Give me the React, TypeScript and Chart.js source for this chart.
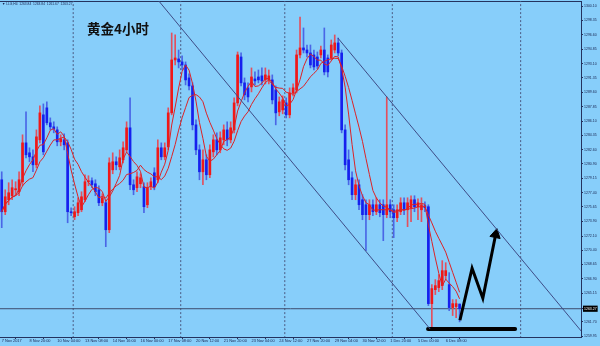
import React, { useEffect, useRef } from "react";
import { Chart, registerables } from "chart.js";
Chart.register(...registerables);

// ---- data (XAUUSD H4, 7 Nov 2017 12:00 .. 7 Dec 2017 00:00) ----
const opens = [1278.96,1275.07,1276.53,1277.02,1277.74,1277.50,1278.72,1283.45,1282.24,1281.75,1280.78,1283.82,1286.86,1287.71,1285.89,1285.40,1285.03,1283.58,1283.82,1283.45,1275.07,1274.46,1274.95,1275.31,1276.53,1278.72,1278.84,1278.47,1277.74,1276.16,1276.16,1272.88,1280.17,1281.15,1280.54,1281.39,1282.60,1285.28,1278.35,1277.99,1278.47,1278.11,1275.92,1278.11,1279.81,1278.96,1282.85,1281.75,1282.97,1287.10,1293.54,1293.66,1293.30,1292.93,1291.35,1290.38,1285.64,1282.60,1279.93,1281.39,1279.57,1282.36,1283.82,1282.60,1283.82,1285.03,1283.82,1285.03,1288.31,1293.90,1290.75,1290.14,1290.26,1291.23,1291.47,1291.60,1291.11,1291.11,1291.11,1289.89,1287.22,1287.46,1288.31,1286.86,1289.53,1289.89,1294.15,1295.00,1294.75,1294.39,1294.15,1293.90,1294.15,1294.75,1293.78,1293.78,1294.75,1295.61,1294.39,1285.03,1281.39,1279.20,1277.14,1278.35,1276.53,1275.92,1274.71,1275.92,1275.07,1275.92,1275.92,1274.71,1275.92,1275.31,1274.34,1275.07,1276.16,1275.31,1275.56,1276.53,1275.68,1275.31,1275.80,1275.68,1263.89,1265.59,1265.84,1266.08,1267.30,1266.20,1263.41,1263.53,1263.84];
const highs = [1279.93,1277.74,1278.60,1278.96,1278.72,1279.93,1284.43,1287.22,1282.85,1282.60,1285.03,1287.95,1288.19,1288.44,1286.49,1286.01,1285.40,1284.43,1284.55,1283.82,1275.56,1275.68,1276.77,1277.50,1279.57,1279.45,1279.20,1278.96,1278.23,1277.26,1276.53,1281.63,1282.24,1281.75,1282.60,1283.58,1286.01,1288.92,1278.96,1279.93,1279.69,1278.60,1278.60,1279.20,1280.42,1283.82,1283.45,1283.45,1287.71,1296.82,1296.58,1294.75,1294.03,1293.30,1291.84,1290.75,1286.25,1283.21,1282.60,1282.00,1283.21,1284.43,1284.67,1284.79,1285.64,1286.01,1286.01,1288.92,1294.51,1294.39,1291.35,1290.75,1292.57,1292.08,1292.32,1292.57,1292.57,1292.32,1291.72,1290.38,1289.04,1289.17,1288.92,1290.14,1290.62,1294.75,1298.76,1297.43,1295.36,1295.36,1294.75,1294.51,1295.24,1297.43,1294.15,1295.97,1296.58,1296.21,1294.75,1285.64,1282.60,1279.93,1278.96,1278.96,1277.14,1276.53,1276.53,1276.53,1276.77,1276.53,1276.53,1289.04,1276.53,1275.92,1275.92,1276.77,1276.77,1276.77,1277.02,1277.02,1276.65,1276.77,1276.29,1275.92,1266.20,1266.81,1267.42,1269.12,1268.87,1267.66,1264.38,1264.38,1263.84];
const lows = [1273.13,1274.71,1275.92,1276.53,1277.02,1277.02,1278.23,1281.63,1281.15,1279.93,1280.42,1283.45,1282.00,1285.64,1285.03,1284.67,1283.09,1283.09,1282.60,1273.73,1274.59,1274.10,1274.59,1275.07,1276.29,1278.23,1277.99,1277.02,1275.80,1275.80,1270.82,1272.52,1279.69,1280.17,1280.17,1281.02,1282.36,1277.74,1277.14,1277.50,1277.99,1274.95,1275.56,1277.74,1277.74,1278.60,1281.39,1281.39,1282.60,1286.86,1292.93,1292.57,1292.32,1290.50,1289.89,1285.03,1282.00,1278.96,1278.35,1278.96,1279.20,1281.75,1282.00,1282.24,1283.21,1283.09,1283.45,1284.67,1287.95,1290.38,1288.68,1288.44,1289.65,1290.50,1290.75,1290.50,1290.62,1290.62,1288.19,1285.64,1286.74,1286.98,1286.49,1286.49,1289.17,1289.53,1293.78,1294.39,1293.90,1292.57,1292.32,1292.45,1293.78,1291.72,1291.47,1293.54,1294.39,1294.03,1284.67,1280.17,1278.35,1276.53,1276.53,1275.31,1274.10,1270.33,1274.10,1274.59,1274.71,1274.46,1271.55,1274.34,1274.34,1271.91,1273.86,1274.71,1274.71,1273.25,1273.86,1275.07,1274.10,1273.86,1275.07,1263.65,1260.86,1264.99,1265.35,1265.59,1266.81,1263.04,1262.44,1262.19,1261.67];
const closes = [1275.07,1276.89,1277.38,1277.99,1277.87,1278.96,1283.45,1282.00,1281.75,1280.78,1284.18,1287.10,1282.36,1285.89,1285.40,1285.16,1283.58,1283.94,1283.21,1275.07,1274.95,1275.07,1276.16,1276.89,1278.72,1278.84,1278.35,1277.50,1276.16,1276.77,1272.88,1281.02,1281.15,1280.78,1281.63,1282.85,1285.28,1278.35,1277.74,1279.32,1279.20,1275.68,1277.99,1278.72,1278.11,1282.85,1281.75,1282.85,1287.10,1293.54,1293.78,1293.30,1292.93,1291.11,1290.38,1285.64,1282.60,1279.93,1281.39,1279.57,1282.60,1283.82,1282.60,1284.06,1285.03,1283.82,1285.28,1288.31,1294.15,1290.75,1289.29,1289.04,1291.47,1290.99,1291.11,1290.99,1291.72,1291.60,1288.68,1287.10,1288.44,1288.68,1286.86,1289.53,1290.14,1294.15,1295.00,1294.75,1294.39,1292.93,1292.69,1292.81,1294.75,1292.08,1292.08,1295.36,1295.61,1294.39,1285.03,1280.78,1278.96,1277.14,1278.35,1275.92,1274.71,1274.71,1275.92,1275.07,1275.92,1274.95,1274.71,1275.92,1275.07,1274.34,1275.31,1276.16,1275.31,1276.16,1276.53,1275.68,1276.16,1275.92,1275.56,1263.89,1265.72,1266.08,1266.69,1267.90,1267.90,1263.41,1263.89,1263.89,1263.27];

const xTickBars = [0, 8, 16, 24, 32, 40, 48, 56, 64, 72, 80, 88, 96, 104, 112, 120, 128];
const xTickLabels = ["7 Nov 2017", "8 Nov 20:00", "10 Nov 04:00", "13 Nov 08:00", "14 Nov 16:00", "16 Nov 00:00", "17 Nov 08:00", "20 Nov 12:00", "21 Nov 20:00", "23 Nov 04:00", "24 Nov 12:00", "27 Nov 20:00", "29 Nov 04:00", "30 Nov 12:00", "1 Dec 20:00", "5 Dec 00:00", "6 Dec 08:00"];
const yTickValues = [1300.10, 1298.35, 1296.60, 1294.85, 1293.10, 1291.35, 1289.60, 1287.85, 1286.10, 1284.35, 1282.60, 1280.90, 1279.15, 1277.40, 1275.65, 1273.90, 1272.10, 1270.40, 1268.65, 1266.90, 1265.15, 1263.27, 1261.70, 1259.95];
const currentPrice = 1263.27;
const weekStartBars = [21, 52, 82, 113, 150];
const maPeriods = [5, 10];
const lowerChannel = [{ x: 45.05, y: 1300.83 }, { x: 123.5, y: 1260.8 }];
const upperChannel = [{ x: 96.9, y: 1296.21 }, { x: 167.3, y: 1260.43 }];
const arrowPath = [{ x: 132.1, y: 1261.87 }, { x: 135.6, y: 1268.2 }, { x: 138.7, y: 1264.55 }, { x: 142.4, y: 1272.3 }];
const supportLine = [{ x: 122.9, y: 1260.8 }, { x: 148.0, y: 1260.8 }];

const X_MIN = -0.5;
const X_MAX = 167;
const Y_MIN = 1259.83;
const Y_MAX = 1300.71;

function sma(values: number[], period: number): number[] {
  return values.map((_, i) => {
    const s = Math.max(0, i - period + 1);
    const w = values.slice(s, i + 1);
    return w.reduce((a, b) => a + b, 0) / w.length;
  });
}

const AXIS = "#24325e";
const TXT = "#1a2550";

const zeroPad = (s: any) => {
  s.paddingLeft = 0;
  s.paddingRight = 0;
  s.paddingTop = 0;
  s.paddingBottom = 0;
};

export default function App() {
  const ref = useRef<HTMLCanvasElement | null>(null);

  useEffect(() => {
    document.body.style.margin = "0";
    if (!ref.current) return;
    const isBull = (i: number) => closes[i] >= opens[i];
    const datasets: any[] = [];

    datasets.push({
      type: "bar",
      data: closes.map((c, i) => ({ x: i, y: [opens[i], c] })),
      backgroundColor: (ctx: any) => (isBull(ctx.dataIndex) ? "#f01818" : "#1620ee"),
      barThickness: 2,
      grouped: false,
      minBarLength: 1,
      borderWidth: 0,
      order: 2,
    });
    datasets.push({
      type: "bar",
      data: closes.map((_, i) => ({ x: i, y: [lows[i], highs[i]] })),
      backgroundColor: (ctx: any) => (isBull(ctx.dataIndex) ? "#e2505e" : "#4a66e6"),
      barThickness: 1,
      grouped: false,
      borderWidth: 0,
      order: 3,
    });
    maPeriods.forEach((p) => {
      const ma = sma(closes, p);
      datasets.push({
        type: "line",
        data: ma.map((v, i) => ({ x: i, y: v })),
        borderColor: "#dc2226",
        borderWidth: 1,
        pointRadius: 0,
        tension: 0,
        order: 1,
      });
    });
    weekStartBars.forEach((w) => {
      datasets.push({
        type: "line",
        data: [{ x: w - 0.4, y: Y_MIN - 5 }, { x: w - 0.4, y: Y_MAX + 5 }],
        borderColor: "#4b5a82",
        borderWidth: 1,
        borderDash: [2, 2],
        pointRadius: 0,
        order: 6,
      });
    });
    datasets.push({
      type: "line",
      data: [{ x: X_MIN, y: currentPrice }, { x: X_MAX, y: currentPrice }],
      borderColor: "#3d4c6e",
      borderWidth: 1,
      pointRadius: 0,
      order: 5,
    });
    [lowerChannel, upperChannel].forEach((seg) => {
      datasets.push({
        type: "line",
        data: seg,
        borderColor: "#3e4c86",
        borderWidth: 1,
        pointRadius: 0,
        order: 0,
      });
    });
    datasets.push({
      type: "line",
      data: supportLine,
      borderColor: "#000000",
      borderWidth: 4,
      borderCapStyle: "round",
      pointRadius: 0,
      order: 0,
    });
    datasets.push({
      type: "line",
      data: arrowPath,
      borderColor: "#000000",
      borderWidth: 3,
      borderJoinStyle: "miter",
      pointRadius: arrowPath.map((_, i) => (i === arrowPath.length - 1 ? 6 : 0)),
      pointStyle: "triangle",
      pointRotation: 12,
      pointBackgroundColor: "#000000",
      pointBorderColor: "#000000",
      pointBorderWidth: 1,
      order: 0,
    });

    const chart = new Chart(ref.current, {
      type: "bar",
      data: { datasets },
      options: {
        responsive: false,
        animation: false,
        devicePixelRatio: 1,
        layout: { padding: 0, autoPadding: false },
        plugins: { legend: { display: false }, tooltip: { enabled: false } },
        scales: {
          x: {
            type: "linear",
            position: "bottom",
            min: X_MIN,
            max: X_MAX,
            offset: false,
            afterBuildTicks: (s: any) => {
              s.ticks = xTickBars.map((v) => ({ value: v }));
            },
            afterFit: (s: any) => {
              s.height = 9;
              zeroPad(s);
            },
            ticks: {
              autoSkip: false,
              maxRotation: 0,
              minRotation: 0,
              align: "start",
              padding: 0,
              color: TXT,
              font: { family: "Liberation Sans", size: 3.9 },
              callback: (_v: any, i: number) => xTickLabels[i],
            },
            grid: { drawOnChartArea: false, drawTicks: true, tickLength: 2, color: AXIS },
            border: { display: true, color: AXIS },
          },
          xTop: {
            type: "linear",
            position: "top",
            min: 0,
            max: 1,
            ticks: { display: false },
            grid: { display: false, drawTicks: false },
            border: { display: true, color: AXIS },
            afterFit: (s: any) => {
              s.height = 1;
              zeroPad(s);
            },
          },
          y: {
            type: "linear",
            position: "right",
            min: Y_MIN,
            max: Y_MAX,
            afterBuildTicks: (s: any) => {
              s.ticks = yTickValues.map((v) => ({ value: v }));
            },
            afterFit: (s: any) => {
              s.width = 19;
              zeroPad(s);
            },
            ticks: {
              autoSkip: false,
              padding: 1,
              font: { family: "Liberation Sans", size: 3.5 },
              color: (ctx: any) => (ctx.tick && ctx.tick.value === currentPrice ? "#ffffff" : TXT),
              showLabelBackdrop: (ctx: any) => !!(ctx.tick && ctx.tick.value === currentPrice),
              backdropColor: "#000000",
              backdropPadding: { x: 1, y: 1 },
              callback: (v: any) => Number(v).toFixed(2),
            },
            grid: { drawOnChartArea: false, drawTicks: true, tickLength: 2, color: AXIS },
            border: { display: true, color: AXIS },
          },
        },
      } as any,
    });
    return () => chart.destroy();
  }, []);

  return (
    <div
      style={{
        position: "fixed",
        left: 0,
        top: 0,
        width: 600,
        height: 346,
        background: "#87cefa",
        overflow: "hidden",
      }}
    >
      <canvas ref={ref} width={600} height={346} style={{ position: "absolute", left: 0, top: 0 }} />
      <div
        style={{
          position: "absolute",
          left: 2,
          top: 2,
          fontFamily: "Liberation Sans",
          fontSize: 3.3,
          lineHeight: "4px",
          color: TXT,
          whiteSpace: "pre",
        }}
      >
        {"▼ LLG,H4  1263.84  1263.84  1261.67  1263.27"}
      </div>
      <div
        style={{
          position: "absolute",
          left: 87,
          top: 21,
          fontFamily: '"Noto Sans CJK SC"',
          fontWeight: 700,
          fontSize: 13.5,
          lineHeight: "14px",
          color: "#111111",
          whiteSpace: "nowrap",
        }}
      >
        黄金4小时
      </div>
    </div>
  );
}
